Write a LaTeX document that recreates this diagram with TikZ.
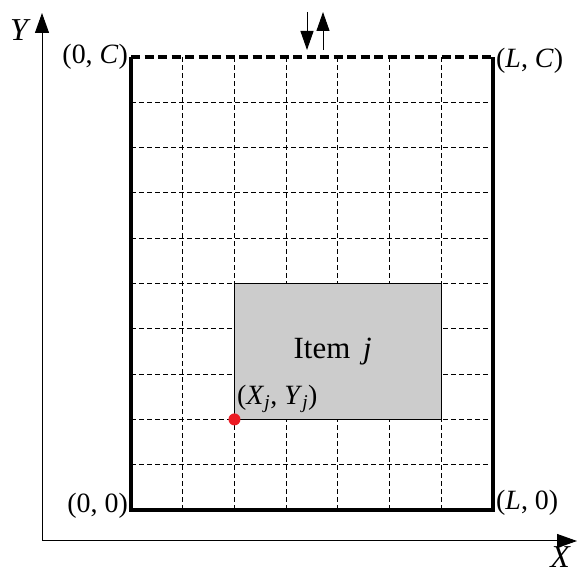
\documentclass[tikz,border=0pt]{standalone}
\usepackage{fontspec}
\setmainfont{Liberation Serif}
\usetikzlibrary{arrows.meta}
\definecolor{ItemGray}{RGB}{204,204,204}
\definecolor{DotRed}{RGB}{236,28,36}
\tikzset{
  axis/.style={line width=1bp,-{Triangle[length=20bp,width=14bp]}},
  flow/.style={line width=1bp,-{Triangle[length=19bp,width=13bp]}},
  binwall/.style={line width=3.6bp,line join=miter},
  gridline/.style={line width=0.8bp,dash pattern=on 5bp off 3bp},
  lbl/.style={font=\fontsize{28}{28}\selectfont,inner sep=1bp},
  biglbl/.style={font=\fontsize{32}{32}\selectfont\itshape,inner sep=0pt}
}
\begin{document}
\begin{tikzpicture}[x=1bp,y=1bp]
  \useasboundingbox (0,0) rectangle (577,574);
  \coordinate (O) at (42,33);
  \coordinate (xend) at (577,33);
  \coordinate (yend) at (42,561);
  \draw[axis] (O)--(xend);
  \draw[axis] (O)--(yend);
  \node[biglbl] (xlab) at (560,17) {X};
  \node[biglbl] (ylab) at (19,544) {Y};
  \begin{scope}[shift={(131,64)},x=51.714bp,y=45.3bp]
    \foreach \i in {1,...,6} \draw[gridline] (\i,0)--(\i,10);
    \foreach \j in {1,...,9} \draw[gridline] (0,\j)--(7,\j);
    \coordinate (b00) at (0,0);
    \coordinate (bL0) at (7,0);
    \coordinate (b0C) at (0,10);
    \coordinate (bLC) at (7,10);
    \draw[fill=ItemGray,line width=1.3bp] (2,2) rectangle (6,5);
    \node[font=\fontsize{31}{31}\selectfont] (item) at (3.9,3.5) {Item\, \textit{j}};
    \draw[binwall] (b0C)--(b00)--(bL0)--(bLC);
    \draw[binwall,dash pattern=on 9bp off 4.5bp] (b0C)--(bLC);
    \fill[DotRed] (2,2) circle (6bp);
    \node[lbl,anchor=base west] (corner) at (2.03,2.33)
      {(\textit{X}\textsubscript{\textit{j}}, \textit{Y}\textsubscript{\textit{j}})};
  \end{scope}
  \node[lbl,anchor=east] (l0C) at ([xshift=-2bp]b0C) {(0, \textit{C})};
  \node[lbl,anchor=west] (lLC) at ([xshift=2bp,yshift=-4bp]bLC) {(\textit{L}, \textit{C})};
  \node[lbl,anchor=east] (l00) at ([xshift=-2bp,yshift=4bp]b00) {(0, 0)};
  \node[lbl,anchor=west] (lL0) at ([xshift=2bp,yshift=7bp]bL0) {(\textit{L}, 0)};
  \coordinate (dtop) at (307,562);
  \coordinate (dbot) at (307,524);
  \coordinate (utop) at (323,562);
  \coordinate (ubot) at (323,524);
  \draw[flow] (dtop)--(dbot);
  \draw[flow] (ubot)--(utop);
\end{tikzpicture}
\end{document}
